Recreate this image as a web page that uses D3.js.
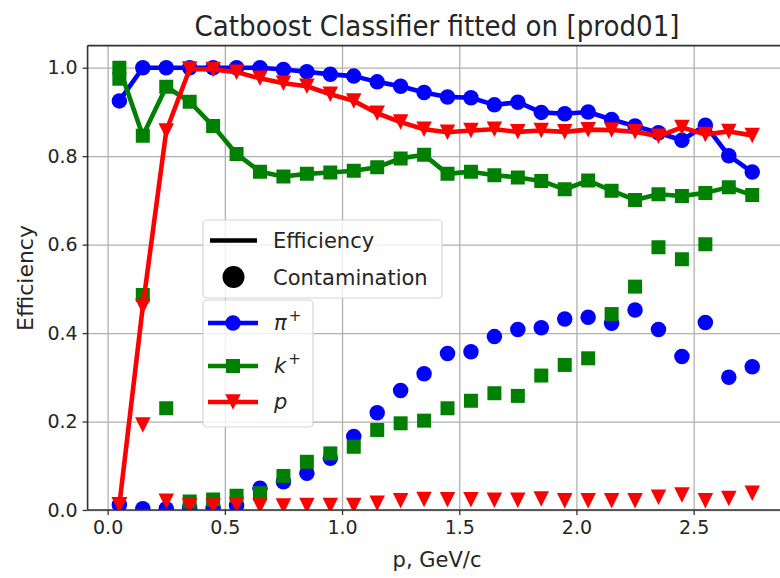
<!DOCTYPE html>
<html>
<head>
<meta charset="utf-8">
<script src="https://cdn.jsdelivr.net/npm/d3@7"></script>
<style>
  body { margin: 0; background: #ffffff; }
  text { font-family: "DejaVu Sans", sans-serif; fill: #262626; }
</style>
</head>
<body>
<svg id="chart" width="780" height="578"></svg>
<script>
// Momentum bin centres, GeV/c
const momentum = [0.05, 0.15, 0.25, 0.35, 0.45, 0.55, 0.65, 0.75, 0.85, 0.95,
                  1.05, 1.15, 1.25, 1.35, 1.45, 1.55, 1.65, 1.75, 1.85, 1.95,
                  2.05, 2.15, 2.25, 2.35, 2.45, 2.55, 2.65, 2.75];

// Efficiency per bin
const effPi = [0.925, 1.0, 1.0, 1.0, 1.0, 1.0, 1.0, 0.996, 0.991, 0.985,
               0.981, 0.968, 0.958, 0.944, 0.934, 0.932, 0.916, 0.922, 0.899, 0.896,
               0.9, 0.883, 0.868, 0.853, 0.836, 0.87, 0.801, 0.764];
const effK  = [1.0, 0.846, 0.957, 0.923, 0.868, 0.805, 0.765, 0.754, 0.76, 0.763,
               0.767, 0.775, 0.795, 0.803, 0.76, 0.765, 0.757, 0.752, 0.744, 0.725,
               0.745, 0.722, 0.701, 0.714, 0.71, 0.717, 0.73, 0.712];
const effP  = [0.012, 0.46, 0.857, 0.997, 0.996, 0.99, 0.976, 0.965, 0.958, 0.94,
               0.925, 0.897, 0.877, 0.861, 0.854, 0.858, 0.861, 0.855, 0.858, 0.855,
               0.86, 0.859, 0.855, 0.845, 0.865, 0.849, 0.856, 0.847];

// Contamination per bin
const contPi = [0.012, 0.003, 0.003, 0.005, 0.006, 0.01, 0.049, 0.064, 0.083, 0.117,
                0.166, 0.22, 0.27, 0.308, 0.354, 0.358, 0.392, 0.408, 0.412, 0.432,
                0.436, 0.422, 0.452, 0.408, 0.347, 0.424, 0.3, 0.324];
const contK  = [0.975, 0.486, 0.23, 0.019, 0.024, 0.032, 0.038, 0.077, 0.109, 0.128,
                0.143, 0.181, 0.196, 0.202, 0.23, 0.247, 0.264, 0.258, 0.304, 0.328,
                0.343, 0.443, 0.505, 0.594, 0.567, 0.601, null, null];
const contP  = [0.012, 0.192, 0.02, 0.009, 0.009, 0.012, 0.009, 0.009, 0.01, 0.01,
                0.01, 0.015, 0.021, 0.024, 0.023, 0.023, 0.022, 0.022, 0.025, 0.021,
                0.021, 0.021, 0.021, 0.029, 0.034, 0.021, 0.026, 0.038];

const xTicks = [0.0, 0.5, 1.0, 1.5, 2.0, 2.5];
const yTicks = [0.0, 0.2, 0.4, 0.6, 0.8, 1.0];

const particles = [
  { name: "π", sup: "+", color: "#0000ff", marker: "circle",   eff: effPi, cont: contPi },
  { name: "k", sup: "+", color: "#008000", marker: "square",   eff: effK,  cont: contK  },
  { name: "p", sup: "",  color: "#ff0000", marker: "triangle", eff: effP,  cont: contP  }
];

const svg = d3.select("#chart");
const plot = { left: 87.6, right: 784, top: 45.6, bottom: 510 };

const x = d3.scaleLinear().domain([-0.0855, 2.8855]).range([plot.left, plot.right]);
const y = d3.scaleLinear().domain([0, 1.05]).range([plot.bottom, plot.top]);

svg.append("defs").append("clipPath").attr("id", "plotClip")
  .append("rect")
  .attr("x", plot.left).attr("y", plot.top)
  .attr("width", plot.right - plot.left).attr("height", plot.bottom - plot.top);

// grid
const grid = svg.append("g");
grid.append("g")
  .attr("transform", `translate(0,${plot.bottom})`)
  .call(d3.axisBottom(x).tickValues(xTicks).tickSize(-(plot.bottom - plot.top)).tickFormat(""))
  .call(g => g.select(".domain").remove())
  .call(g => g.selectAll("line").attr("stroke", "#b0b0b0").attr("stroke-width", 1.3));
grid.append("g")
  .attr("transform", `translate(${plot.left},0)`)
  .call(d3.axisLeft(y).tickValues(yTicks).tickSize(-(plot.right - plot.left)).tickFormat(""))
  .call(g => g.select(".domain").remove())
  .call(g => g.selectAll("line").attr("stroke", "#b0b0b0").attr("stroke-width", 1.3));

// marker shapes
function markerPath(kind, s) {
  const h = s / 2;
  if (kind === "circle") {
    return `M${h},0A${h},${h} 0 1,1 ${-h},0A${h},${h} 0 1,1 ${h},0Z`;
  }
  if (kind === "square") {
    return `M${-h},${-h}H${h}V${h}H${-h}Z`;
  }
  return `M${-h},${-h}L${h},${-h}L0,${h}Z`;
}
const markerSize = { circle: 15.5, square: 14, triangle: 15.5 };

const data = svg.append("g").attr("clip-path", "url(#plotClip)");
const line = d3.line().x(d => x(d.p)).y(d => y(d.v));

particles.forEach(pt => {
  const effPts = momentum.map((p, i) => ({ p, v: pt.eff[i] }));
  const contPts = momentum.map((p, i) => ({ p, v: pt.cont[i] })).filter(d => d.v !== null);

  data.append("path")
    .datum(effPts)
    .attr("d", line)
    .attr("fill", "none")
    .attr("stroke", pt.color)
    .attr("stroke-width", 4.6)
    .attr("stroke-linejoin", "round")
    .attr("stroke-linecap", "butt");

  data.selectAll(null).data(effPts).enter().append("path")
    .attr("transform", d => `translate(${x(d.p)},${y(d.v)})`)
    .attr("d", markerPath(pt.marker, markerSize[pt.marker]))
    .attr("fill", pt.color);

  data.selectAll(null).data(contPts).enter().append("path")
    .attr("transform", d => `translate(${x(d.p)},${y(d.v)})`)
    .attr("d", markerPath(pt.marker, markerSize[pt.marker]))
    .attr("fill", pt.color);
});

// axes
const axisColor = "#333333";
const xAxis = svg.append("g")
  .attr("transform", `translate(0,${plot.bottom})`)
  .call(d3.axisBottom(x).tickValues(xTicks).tickSize(5).tickPadding(6).tickFormat(d3.format(".1f")));
const yAxis = svg.append("g")
  .attr("transform", `translate(${plot.left},0)`)
  .call(d3.axisLeft(y).tickValues(yTicks).tickSize(5).tickPadding(5).tickFormat(d3.format(".1f")));
[xAxis, yAxis].forEach(a => {
  a.select(".domain").remove();
  a.selectAll("line").attr("stroke", axisColor).attr("stroke-width", 1.3);
  a.selectAll("text")
    .attr("fill", "#262626")
    .style("font-family", "'DejaVu Sans', sans-serif")
    .style("font-size", "19px");
});

// spines
const spines = svg.append("g").attr("stroke", axisColor).attr("stroke-width", 1.6).attr("fill", "none");
spines.append("line").attr("x1", plot.left).attr("x2", plot.left).attr("y1", plot.top).attr("y2", plot.bottom);
spines.append("line").attr("x1", plot.left).attr("x2", plot.right).attr("y1", plot.bottom).attr("y2", plot.bottom);
spines.append("line").attr("x1", plot.left).attr("x2", plot.right).attr("y1", plot.top).attr("y2", plot.top);
spines.append("line").attr("x1", plot.right).attr("x2", plot.right).attr("y1", plot.top).attr("y2", plot.bottom);

// titles
svg.append("text")
  .attr("x", 437).attr("y", 36)
  .attr("text-anchor", "middle")
  .attr("textLength", 485).attr("lengthAdjust", "spacingAndGlyphs")
  .style("font-size", "29px")
  .text("Catboost Classifier fitted on [prod01]");

svg.append("text")
  .attr("x", 437).attr("y", 567)
  .attr("text-anchor", "middle")
  .style("font-size", "21px")
  .text("p, GeV/c");

svg.append("text")
  .attr("transform", `translate(33,278) rotate(-90)`)
  .attr("text-anchor", "middle")
  .style("font-size", "22px")
  .text("Efficiency");

// legend: line style meaning
const leg1 = svg.append("g");
leg1.append("rect")
  .attr("x", 203).attr("y", 220).attr("width", 239).attr("height", 78).attr("rx", 4)
  .attr("fill", "#ffffff").attr("fill-opacity", 0.8)
  .attr("stroke", "#d6d6d6").attr("stroke-width", 1.2);
leg1.append("line")
  .attr("x1", 210).attr("x2", 257).attr("y1", 240.5).attr("y2", 240.5)
  .attr("stroke", "#000").attr("stroke-width", 4.6);
leg1.append("text").attr("x", 273).attr("y", 248).style("font-size", "21px").text("Efficiency");
leg1.append("circle").attr("cx", 233.5).attr("cy", 277).attr("r", 11).attr("fill", "#000");
leg1.append("text").attr("x", 273).attr("y", 284.5).style("font-size", "21px").text("Contamination");

// legend: particle species
const leg2 = svg.append("g");
leg2.append("rect")
  .attr("x", 203).attr("y", 300).attr("width", 110).attr("height", 127).attr("rx", 4)
  .attr("fill", "#ffffff").attr("fill-opacity", 0.8)
  .attr("stroke", "#d6d6d6").attr("stroke-width", 1.2);
const rowY = [323, 366, 402];
particles.forEach((pt, i) => {
  const yy = rowY[i];
  leg2.append("line")
    .attr("x1", 208).attr("x2", 258).attr("y1", yy).attr("y2", yy)
    .attr("stroke", pt.color).attr("stroke-width", 4.6);
  leg2.append("path")
    .attr("transform", `translate(233,${yy})`)
    .attr("d", markerPath(pt.marker, markerSize[pt.marker]))
    .attr("fill", pt.color);
  const t = leg2.append("text").attr("x", 274).attr("y", yy + 7).style("font-size", "21px");
  t.append("tspan").style("font-style", "italic").text(pt.name);
  if (pt.sup) {
    t.append("tspan").attr("dx", 2).attr("dy", -9).style("font-size", "15px").text(pt.sup);
  }
});
</script>
</body>
</html>
